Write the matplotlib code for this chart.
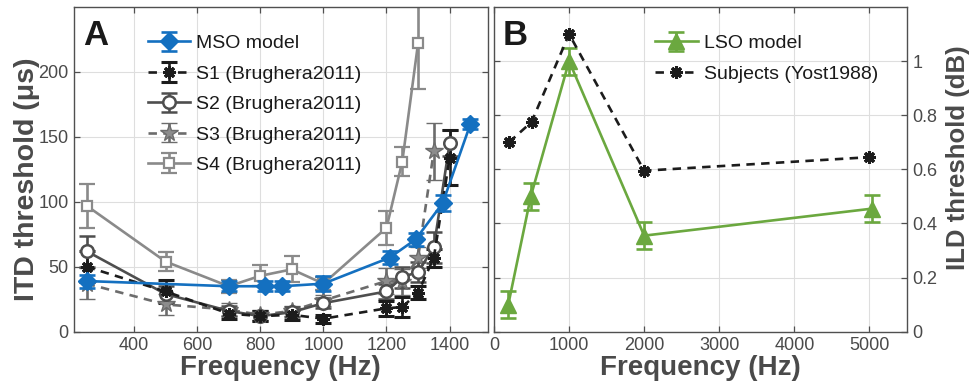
import matplotlib
matplotlib.use("Agg")
import matplotlib.pyplot as plt
import numpy as np

plt.rcParams['font.family'] = ['Liberation Sans', 'DejaVu Sans']

# ---------------- Panel A data (ITD thresholds, µs) ----------------
mso_freq = [250, 700, 815, 870, 1000, 1210, 1292, 1378, 1466]
mso_val = [39, 35, 35, 35, 37, 57, 71, 99, 160]
mso_err = [5, 4, 4, 4, 6, 5, 5, 6, 4]

s1_freq = [250, 500, 700, 800, 900, 1000, 1200, 1250, 1300, 1350, 1400]
s1_val = [50, 31, 14, 12, 13, 10, 18, 19, 30, 57, 134]
s1_err = [12, 9, 4, 4, 4, 3, 6, 8, 5, 7, 21]

s2_freq = [250, 500, 700, 800, 900, 1000, 1200, 1250, 1300, 1350, 1400]
s2_val = [62, 29, 16, 12, 15, 22, 31, 42, 46, 65, 145]
s2_err = [12, 6, 4, 4, 4, 4, 6, 8, 8, 12, 10]

s3_freq = [250, 500, 700, 800, 900, 1000, 1200, 1250, 1300, 1350]
s3_val = [37, 21, 17, 13, 16, 24, 39, 38, 57, 139]
s3_err = [12, 8, 5, 4, 4, 4, 10, 10, 8, 22]

s4_freq = [250, 500, 700, 800, 900, 1000, 1200, 1250, 1300]
s4_val = [97, 54, 35, 43, 48, 37, 80, 131, 222]
s4_err = [17, 7, 5, 8, 10, 5, 13, 11, 35]

# ---------------- Panel B data (ILD thresholds, dB) ----------------
lso_freq = [190, 490, 1000, 2000, 5040]
lso_val = [0.10, 0.50, 1.00, 0.355, 0.455]
lso_err = [0.05, 0.05, 0.05, 0.05, 0.05]

yost_freq = [200, 500, 1000, 2000, 5000]
yost_val = [0.70, 0.775, 1.10, 0.595, 0.645]

a_xticks = [400, 600, 800, 1000, 1200, 1400]
a_yticks = [0, 50, 100, 150, 200]
b_xticks = [0, 1000, 2000, 3000, 4000, 5000]
b_yticks = [0, 0.2, 0.4, 0.6, 0.8, 1.0]

AX = '#505050'
TXT = '#4a4a4a'
BLUE = '#1470C0'
GREEN = '#6BA83F'

fig = plt.figure(figsize=(9.71, 3.85), dpi=100)
axA = fig.add_axes([74/971, 1-331.7/385, 413.5/971, 324.7/385])
axB = fig.add_axes([494/971, 1-331.7/385, 413/971, 324.7/385])

lw = 1.9
cap = 5.5
dash = (3.2, 2.4)


def style(ax):
    ax.grid(True, color='#dedede', linewidth=0.8, zorder=0)
    ax.set_axisbelow(True)
    for s in ax.spines.values():
        s.set_color(AX)
        s.set_linewidth(1.0)
    ax.tick_params(direction='in', length=4, width=0.9, color=AX,
                   labelcolor=TXT, labelsize=13, top=True, right=True,
                   left=True, bottom=True, pad=4)


# ---------- Panel A ----------
eb_kw = dict(capsize=cap, capthick=lw, elinewidth=lw, linewidth=lw)
h4 = axA.errorbar(s4_freq, s4_val, yerr=s4_err, color='#8a8a8a', marker='s',
                  ms=7.5, mfc='white', mec='#8a8a8a', mew=1.6, **eb_kw,
                  label='S4 (Brughera2011)')
h3 = axA.errorbar(s3_freq, s3_val, yerr=s3_err, color='#6c6c6c', marker='*',
                  ms=13, mfc='#8c8c8c', mec='#6c6c6c', mew=1.0, ls='--',
                  dashes=dash, **eb_kw, label='S3 (Brughera2011)')
h2 = axA.errorbar(s2_freq, s2_val, yerr=s2_err, color='#4e4e4e', marker='o',
                  ms=9, mfc='white', mec='#4e4e4e', mew=1.8, **eb_kw,
                  label='S2 (Brughera2011)')
h1 = axA.errorbar(s1_freq, s1_val, yerr=s1_err, color='#1c1c1c',
                  marker=(8, 2, 0), ms=9, mew=2.2, ls='--', dashes=dash,
                  **eb_kw, label='S1 (Brughera2011)')
h0 = axA.errorbar(mso_freq, mso_val, yerr=mso_err, color=BLUE, marker='D',
                  ms=9, mfc=BLUE, mec=BLUE, **eb_kw, label='MSO model',
                  zorder=5)

axA.set_xlim(210, 1520)
axA.set_ylim(0, 250)
axA.set_xticks(a_xticks)
axA.set_yticks(a_yticks)
style(axA)
axA.set_xlabel('Frequency (Hz)', fontsize=20, fontweight='bold', color=TXT)
axA.set_ylabel('ITD threshold (μs)', fontsize=20.5, fontweight='bold', color=TXT)
axA.xaxis.set_label_coords(0.498, -0.072)
axA.yaxis.set_label_coords(-0.082, 0.47)
axA.text(0.022, 0.962, 'A', transform=axA.transAxes, fontsize=25,
         fontweight='bold', color='#1a1a1a', ha='left', va='top')
legA = axA.legend(handles=[h0, h1, h2, h3, h4], loc='upper left',
                  bbox_to_anchor=(0.178, 0.915), frameon=False, fontsize=14,
                  handlelength=2.2, handletextpad=0.3, labelspacing=0.66,
                  borderpad=0, borderaxespad=0)
for t in legA.get_texts():
    t.set_color('#1a1a1a')

# ---------- Panel B ----------
hl = axB.errorbar(lso_freq, lso_val, yerr=lso_err, color=GREEN, marker='^',
                  ms=11, mfc=GREEN, mec=GREEN, **eb_kw, label='LSO model',
                  zorder=4)
hy, = axB.plot(yost_freq, yost_val, color='#1c1c1c', marker=(8, 2, 0), ms=9,
               mew=2.2, ls='--', dashes=dash, lw=lw,
               label='Subjects (Yost1988)', zorder=5)
axB.set_xlim(0, 5500)
axB.set_ylim(0, 1.2)
axB.set_xticks(b_xticks)
axB.set_yticks(b_yticks)
axB.set_yticklabels(['%g' % v for v in b_yticks])
style(axB)
axB.tick_params(labelleft=False, labelright=True)
axB.set_xlabel('Frequency (Hz)', fontsize=20, fontweight='bold', color=TXT)
axB.xaxis.set_label_coords(0.50, -0.072)
axB.yaxis.set_label_position('right')
axB.set_ylabel('ILD threshold (dB)', fontsize=18.5, fontweight='bold',
               color=TXT, rotation=90, va='top')
axB.yaxis.set_label_coords(1.094, 0.535)
axB.text(0.022, 0.962, 'B', transform=axB.transAxes, fontsize=25,
         fontweight='bold', color='#1a1a1a', ha='left', va='top')
legB = axB.legend(handles=[hl, hy], loc='upper left',
                  bbox_to_anchor=(0.39, 0.915), frameon=False, fontsize=14,
                  handlelength=2.2, handletextpad=0.3, labelspacing=0.66,
                  borderpad=0, borderaxespad=0)
for t in legB.get_texts():
    t.set_color('#1a1a1a')

fig.savefig('out.png', dpi=100)
